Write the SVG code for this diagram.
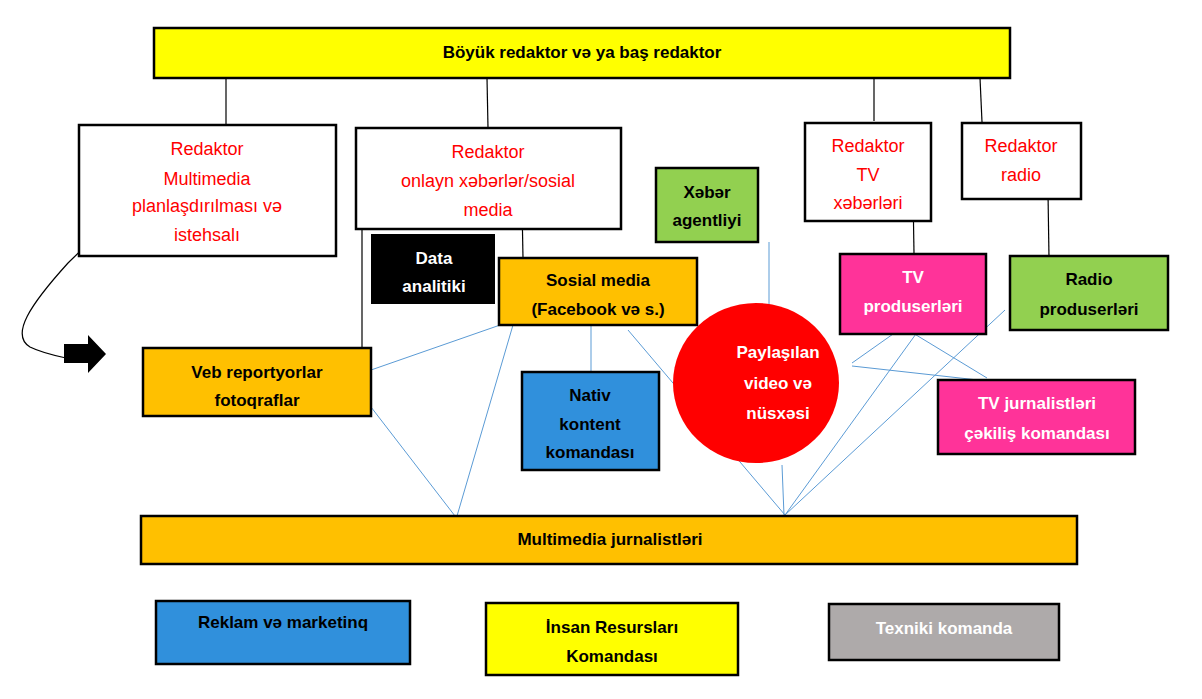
<svg xmlns="http://www.w3.org/2000/svg" width="1202" height="699" viewBox="0 0 1202 699">
<style>
.b{stroke:#000;stroke-width:2.5}
.t{font-family:"Liberation Sans","Noto Sans",sans-serif;font-size:17px;font-weight:bold;text-anchor:middle}
.r{font-family:"Liberation Sans","Noto Sans",sans-serif;font-size:18px;fill:#ff0000;text-anchor:middle}
.w{fill:#fff}
.bl{stroke:#5b9bd5;stroke-width:1;fill:none}
.k{stroke:#000;stroke-width:1.2;fill:none}
</style>
<rect width="1202" height="699" fill="#fff"/>
<g id="connectors">
<line class="k" x1="226" y1="78" x2="226" y2="125"/>
<line class="k" x1="487" y1="78" x2="488" y2="128"/>
<line class="k" x1="874" y1="78" x2="874" y2="121"/>
<line class="k" x1="980" y1="78" x2="982" y2="122"/>
<line class="k" x1="362" y1="202" x2="362" y2="350"/>
<line class="k" x1="422" y1="203" x2="422" y2="226"/>
<line class="k" x1="522" y1="204" x2="523" y2="258"/>
<line class="k" x1="913" y1="191" x2="914" y2="254"/>
<line class="k" x1="1048" y1="193" x2="1049" y2="258"/>
<path class="k" d="M104,228 L68,263 C30,305 10,335 30,347 C40,352 52,355 66,358"/>
<polygon points="64,344 88,344 88,335 106,354 88,373 88,363 64,363" fill="#000"/>
<line class="bl" x1="503" y1="324" x2="371" y2="370"/>
<line class="bl" x1="371" y1="407" x2="455" y2="516"/>
<line class="bl" x1="513" y1="325" x2="457" y2="516"/>
<line class="bl" x1="591" y1="325" x2="591" y2="372"/>
<line class="bl" x1="769" y1="242" x2="769" y2="305"/>
<line class="bl" x1="628" y1="330" x2="785" y2="515"/>
<line class="bl" x1="782" y1="465" x2="784" y2="515"/>
<line class="bl" x1="921" y1="327" x2="785" y2="515"/>
<line class="bl" x1="1005" y1="310" x2="785" y2="515"/>
<line class="bl" x1="852" y1="363" x2="903" y2="327"/>
<line class="bl" x1="852" y1="366" x2="978" y2="380"/>
<line class="bl" x1="903" y1="327" x2="987" y2="378"/>
</g>
<g id="n1"><rect class="b" x="154" y="28" width="856" height="50" fill="#ffff00"/><text class="t" x="582" y="58">Böyük redaktor və ya baş redaktor</text></g>
<g id="n2"><rect class="b" x="79" y="125" width="257" height="131" fill="#fff"/><text class="r" x="207" y="155">Redaktor</text><text class="r" x="207" y="185">Multimedia</text><text class="r" x="207" y="212">planlaşdırılması və</text><text class="r" x="207" y="241">istehsalı</text></g>
<g id="n3"><rect class="b" x="356" y="128" width="265" height="101" fill="#fff"/><text class="r" x="488" y="158">Redaktor</text><text class="r" x="488" y="187">onlayn xəbərlər/sosial</text><text class="r" x="488" y="216">media</text></g>
<g id="n4"><rect class="b" x="805" y="123" width="126" height="98" fill="#fff"/><text class="r" x="868" y="152">Redaktor</text><text class="r" x="868" y="181">TV</text><text class="r" x="868" y="209">xəbərləri</text></g>
<g id="n5"><rect class="b" x="962" y="123" width="119" height="76" fill="#fff"/><text class="r" x="1021" y="152">Redaktor</text><text class="r" x="1021" y="181">radio</text></g>
<g id="n6"><rect class="b" x="656" y="168" width="102" height="74" fill="#92d050"/><text class="t" x="707" y="198">Xəbər</text><text class="t" x="707" y="226">agentliyi</text></g>
<g id="n7"><rect x="371" y="234" width="124" height="70" fill="#000"/><text class="t w" x="434" y="264">Data</text><text class="t w" x="434" y="292">analitiki</text></g>
<g id="n8"><rect class="b" x="499" y="258" width="198" height="67" fill="#ffc000"/><text class="t" x="598" y="286">Sosial media</text><text class="t" x="598" y="315">(Facebook və s.)</text></g>
<g id="n9"><rect class="b" x="840" y="254" width="146" height="80" fill="#ff3399"/><text class="t w" x="913" y="283">TV</text><text class="t w" x="913" y="312">produserləri</text></g>
<g id="n10"><rect class="b" x="1010" y="256" width="158" height="74" fill="#92d050"/><text class="t" x="1089" y="285">Radio</text><text class="t" x="1089" y="315">produserləri</text></g>
<g id="n11"><rect class="b" x="143" y="348" width="228" height="68" fill="#ffc000"/><text class="t" x="257" y="378">Veb reportyorlar</text><text class="t" x="257" y="406">fotoqraflar</text></g>
<g id="n12"><rect class="b" x="522" y="372" width="137" height="98" fill="#3090dc"/><text class="t" x="590" y="401">Nativ</text><text class="t" x="590" y="430">kontent</text><text class="t" x="590" y="458">komandası</text></g>
<g id="n13"><ellipse cx="756" cy="383" rx="83" ry="80" fill="#ff0000"/><text class="t w" x="778" y="358">Paylaşılan</text><text class="t w" x="778" y="389">video  və</text><text class="t w" x="778" y="419">nüsxəsi</text></g>
<g id="n14"><rect class="b" x="938" y="380" width="197" height="74" fill="#ff3399"/><text class="t w" x="1037" y="409">TV jurnalistləri</text><text class="t w" x="1037" y="439">çəkiliş komandası</text></g>
<g id="n15"><rect class="b" x="141" y="516" width="936" height="48" fill="#ffc000"/><text class="t" x="610" y="545">Multimedia jurnalistləri</text></g>
<g id="n16"><rect class="b" x="156" y="601" width="254" height="63" fill="#3090dc"/><text class="t" x="283" y="628">Reklam və marketinq</text></g>
<g id="n17"><rect class="b" x="486" y="603" width="252" height="72" fill="#ffff00"/><text class="t" x="612" y="633">İnsan Resursları</text><text class="t" x="612" y="662">Komandası</text></g>
<g id="n18"><rect class="b" x="829" y="604" width="230" height="56" fill="#aeaaaa"/><text class="t w" x="944" y="634">Texniki komanda</text></g>
</svg>
